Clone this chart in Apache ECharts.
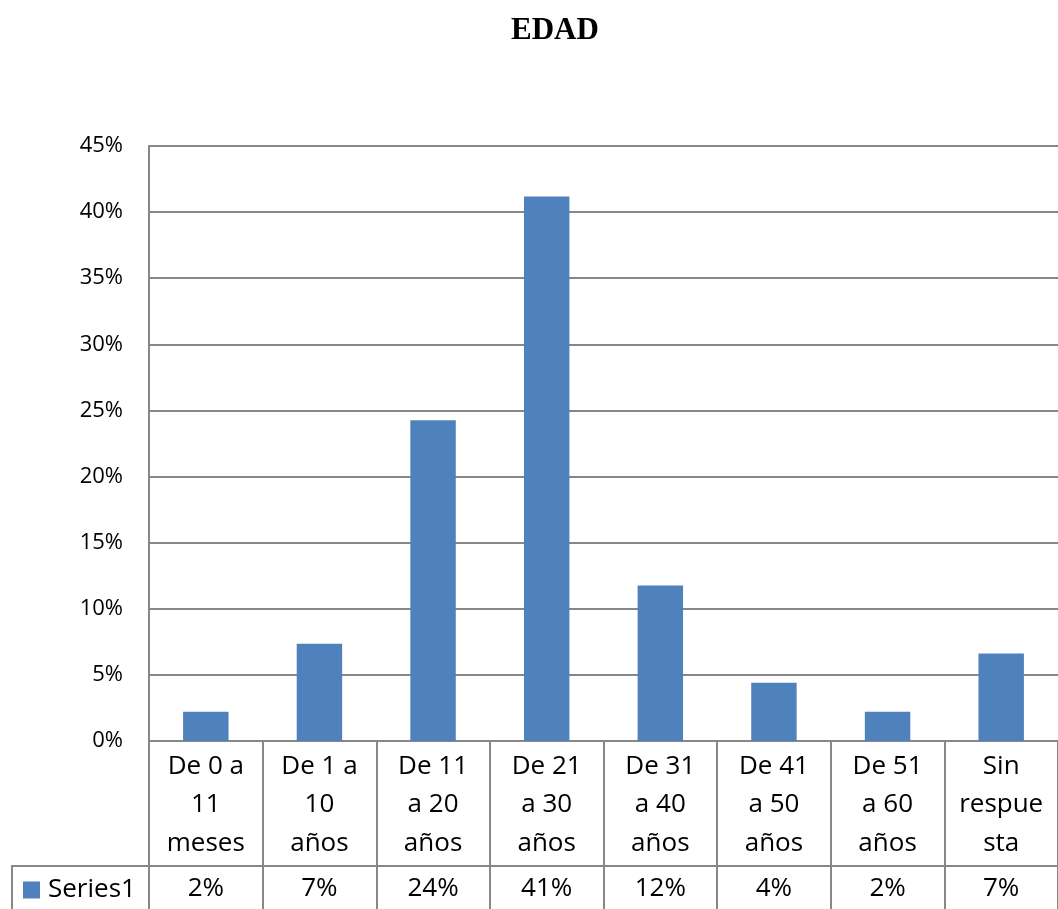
<!DOCTYPE html>
<html>
<head>
<meta charset="utf-8">
<script src="https://cdn.jsdelivr.net/npm/echarts@6/dist/echarts.min.js"></script>
<style>
  html, body { margin: 0; padding: 0; background: #ffffff; }
  #chart { width: 1058px; height: 909px; }
</style>
</head>
<body>
<div id="chart"></div>
<script>
// Age groups (tick labels, wrapped as in the table header)
const categories = [
  'De 0 a\n11\nmeses',
  'De 1 a\n10\naños',
  'De 11\na 20\naños',
  'De 21\na 30\naños',
  'De 31\na 40\naños',
  'De 41\na 50\naños',
  'De 51\na 60\naños',
  'Sin\nrespue\nsta'
];
// Share of respondents per age group
const seriesName = 'Series1';
const values = [0.0221, 0.0735, 0.2426, 0.4118, 0.1176, 0.0441, 0.0221, 0.0662];
// Value axis ticks
const yMin = 0, yMax = 0.45, yStep = 0.05;

const gray = '#878787';
const font = 'Open Sans';
const pct = v => Math.round(v * 100) + '%';

const chart = echarts.init(document.getElementById('chart'), null, { renderer: 'canvas' });

chart.setOption({
  animation: false,
  backgroundColor: '#ffffff',
  title: {
    text: 'EDAD',
    left: 511,
    top: 15,
    padding: 0,
    textStyle: { fontFamily: 'Liberation Serif', fontWeight: 'bold', fontSize: 31, color: '#000000' }
  },
  legend: {
    data: [seriesName],
    left: 23,
    top: 877,
    padding: 0,
    icon: 'rect',
    itemWidth: 17,
    itemHeight: 17,
    textStyle: { fontFamily: font, fontSize: 26, color: '#000000', padding: [0, 0, 0, 3] }
  },
  grid: { left: 149, top: 146, width: 911, height: 595, containLabel: false },
  xAxis: [
    {
      type: 'category',
      data: categories,
      position: 'bottom',
      axisLine: { show: true, lineStyle: { color: gray, width: 2 } },
      axisTick: { show: true, length: 168, lineStyle: { color: gray, width: 2 } },
      axisLabel: {
        interval: 0,
        margin: 6,
        color: '#000000',
        fontFamily: font,
        fontSize: 26,
        lineHeight: 38.5,
        align: 'center'
      },
      splitLine: { show: false }
    },
    {
      // Data table row: rounded values under each category
      type: 'category',
      data: values.map(pct),
      position: 'bottom',
      offset: 125,
      axisLine: { show: true, lineStyle: { color: gray, width: 2 } },
      axisTick: { show: false },
      axisLabel: {
        interval: 0,
        margin: 10,
        color: '#000000',
        fontFamily: font,
        fontSize: 26,
        lineHeight: 26
      },
      splitLine: { show: false }
    }
  ],
  yAxis: {
    type: 'value',
    min: yMin,
    max: yMax,
    interval: yStep,
    axisLine: { show: true, lineStyle: { color: gray, width: 2 } },
    axisTick: { show: false },
    axisLabel: {
      margin: 26,
      color: '#000000',
      fontFamily: font,
      fontSize: 22,
      formatter: v => Math.round(v * 100) + '%'
    },
    splitLine: { show: true, lineStyle: { color: gray, width: 2 } }
  },
  series: [
    {
      name: seriesName,
      type: 'bar',
      xAxisIndex: 0,
      data: values,
      barWidth: '40%',
      itemStyle: { color: '#4F81BD' }
    }
  ],
  graphic: [
    // Legend cell borders of the data table
    {
      type: 'line',
      shape: { x1: 12, y1: 866, x2: 150, y2: 866 },
      style: { stroke: gray, lineWidth: 2 },
      silent: true
    },
    {
      type: 'line',
      shape: { x1: 12, y1: 865, x2: 12, y2: 909 },
      style: { stroke: gray, lineWidth: 2 },
      silent: true
    }
  ]
});
</script>
</body>
</html>
